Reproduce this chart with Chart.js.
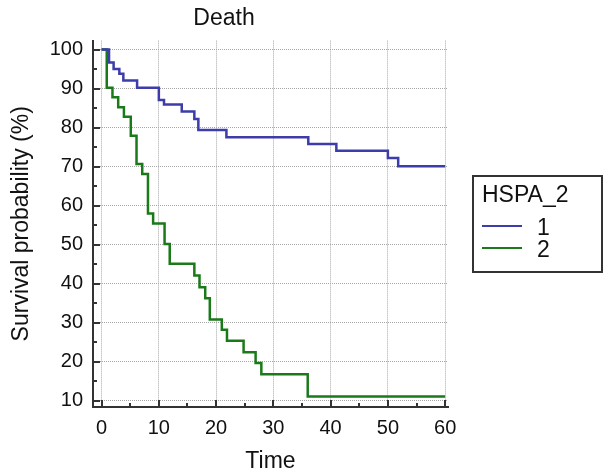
<!DOCTYPE html>
<html lang="en">
<head>
<meta charset="UTF-8">
<title>Death</title>
<style>
  body { margin: 0; background: #fff; font-family: "Liberation Sans", Arial, sans-serif; }
  #wrap { position: relative; width: 604px; height: 475px; }
  #legend { position: absolute; left: 472px; top: 175px; width: 131px; height: 98px;
            box-sizing: border-box; border: 2px solid #333; color: #111; font-size: 23px; }
  #legend .ttl { position: absolute; left: 8px; top: 4px; line-height: 26px; }
  #legend .row { position: absolute; left: 8px; height: 24px; line-height: 24px; }
  #legend .sw { position: absolute; left: 0; top: 10px; width: 40px; height: 2px; }
  #legend .lb { position: absolute; left: 55px; top: 0; }
</style>
</head>
<body>
<div id="wrap">
  <canvas id="myChart" width="604" height="475"></canvas>
  <div id="legend"></div>
</div>

<script src="https://cdn.jsdelivr.net/npm/chart.js"></script>
<script>
// Kaplan-Meier steps (time, survival %)
const group1Times = [0, 1.3, 2.1, 3.1, 3.8, 6.2, 10.0, 10.9, 14.0, 16.2, 16.9, 21.8, 36.1, 41.0, 50.0, 51.8, 60];
const group1Surv  = [100, 96.7, 95.0, 93.8, 92.1, 90.2, 87.1, 85.9, 84.1, 82.2, 79.4, 77.5, 75.8, 74.1, 72.2, 70.1, 70.1];
const group2Times = [0, 0.9, 1.9, 2.9, 3.9, 5.1, 6.1, 7.1, 8.1, 9.0, 11.0, 11.9, 16.2, 17.1, 18.1, 18.9, 21.0, 21.9, 24.8, 26.9, 27.9, 36.0, 60];
const group2Surv  = [100, 90.2, 87.8, 85.2, 82.8, 77.9, 70.7, 68.1, 58.0, 55.4, 50.2, 45.1, 42.1, 39.1, 36.3, 30.8, 28.2, 25.4, 22.4, 19.7, 16.8, 11.1, 11.1];
const groupLabels = ['1', '2'];
const groupColors = ['#3c3caa', '#1a7a1a'];
const xTicks = [0, 10, 20, 30, 40, 50, 60];
const yTicks = [10, 20, 30, 40, 50, 60, 70, 80, 90, 100];

const FONT = '"Liberation Sans", Arial, sans-serif';

function toPoints(times, vals) {
    let pts = [];
    for (let i = 0; i < times.length; i++) {
        pts.push({ x: times[i], y: vals[i] });
    }
    return pts;
}

// inward tick marks (major + minor) like the original plot
const innerTicks = {
    id: 'innerTicks',
    afterDraw(chart) {
        const ctx = chart.ctx;
        const xs = chart.scales.x, ys = chart.scales.y;
        const left = chart.chartArea.left, bottom = chart.chartArea.bottom;
        ctx.save();
        ctx.strokeStyle = '#333';
        ctx.lineWidth = 2;
        ctx.beginPath();
        for (let v = 0; v <= 60; v += 5) {
            let px = Math.round(xs.getPixelForValue(v));
            let len = (v % 10 == 0) ? 7 : 4;
            ctx.moveTo(px, bottom);
            ctx.lineTo(px, bottom - len);
        }
        for (let v = 10; v <= 100; v += 5) {
            let py = Math.round(ys.getPixelForValue(v));
            let len = (v % 10 == 0) ? 7 : 4;
            ctx.moveTo(left, py);
            ctx.lineTo(left + len, py);
        }
        ctx.stroke();
        ctx.restore();
    }
};

const ctx = document.getElementById('myChart');
new Chart(ctx, {
    type: 'line',
    data: {
        datasets: [{
            label: groupLabels[0],
            data: toPoints(group1Times, group1Surv),
            borderColor: groupColors[0],
            borderWidth: 2.5,
            pointRadius: 0,
            stepped: 'before'
        }, {
            label: groupLabels[1],
            data: toPoints(group2Times, group2Surv),
            borderColor: groupColors[1],
            borderWidth: 2.5,
            pointRadius: 0,
            stepped: 'before'
        }]
    },
    options: {
        responsive: false,
        animation: false,
        layout: { padding: { left: 0, right: 156, top: 0, bottom: 0 } },
        plugins: {
            legend: { display: false },
            tooltip: { enabled: false },
            title: {
                display: true,
                text: 'Death',
                color: '#111',
                font: { family: FONT, size: 23, weight: 'normal', lineHeight: 1.2 },
                padding: { top: 5, bottom: 8 }
            }
        },
        scales: {
            x: {
                type: 'linear',
                min: -1.5,
                max: 60.5,
                afterBuildTicks: s => { s.ticks = xTicks.map(v => ({ value: v })); },
                afterFit: s => { s.height = 68; },
                grid: { color: '#a8a8a8', lineWidth: 1, drawTicks: false },
                border: { display: true, color: '#333', width: 2, dash: [1, 1] },
                ticks: { color: '#111', padding: 9, font: { family: FONT, size: 20 }, maxRotation: 0 },
                title: {
                    display: true, text: 'Time', color: '#111',
                    font: { family: FONT, size: 23, lineHeight: 1.2 },
                    padding: { top: 0, bottom: 0 }
                }
            },
            y: {
                min: 8.4,
                max: 102.3,
                afterBuildTicks: s => { s.ticks = yTicks.map(v => ({ value: v })); },
                afterFit: s => { s.width = 93; },
                grid: { color: '#a8a8a8', lineWidth: 1, drawTicks: false },
                border: { display: true, color: '#333', width: 2, dash: [1, 1] },
                ticks: { color: '#111', padding: 10, font: { family: FONT, size: 20 } },
                title: {
                    display: true, text: 'Survival probability (%)', color: '#111',
                    font: { family: FONT, size: 23, lineHeight: 1.2 },
                    padding: { top: 8, bottom: 0 }
                }
            }
        }
    },
    plugins: [innerTicks]
});

// legend box on the right
let v_html = '<div class="ttl">HSPA_2</div>';
for (let i = 0; i < groupLabels.length; i++) {
    v_html += '<div class="row" style="top:' + (38 + i * 22) + 'px">' +
              '<div class="sw" style="background:' + groupColors[i] + '"></div>' +
              '<div class="lb">' + groupLabels[i] + '</div></div>';
}
document.getElementById('legend').innerHTML = v_html;
</script>
</body>
</html>
